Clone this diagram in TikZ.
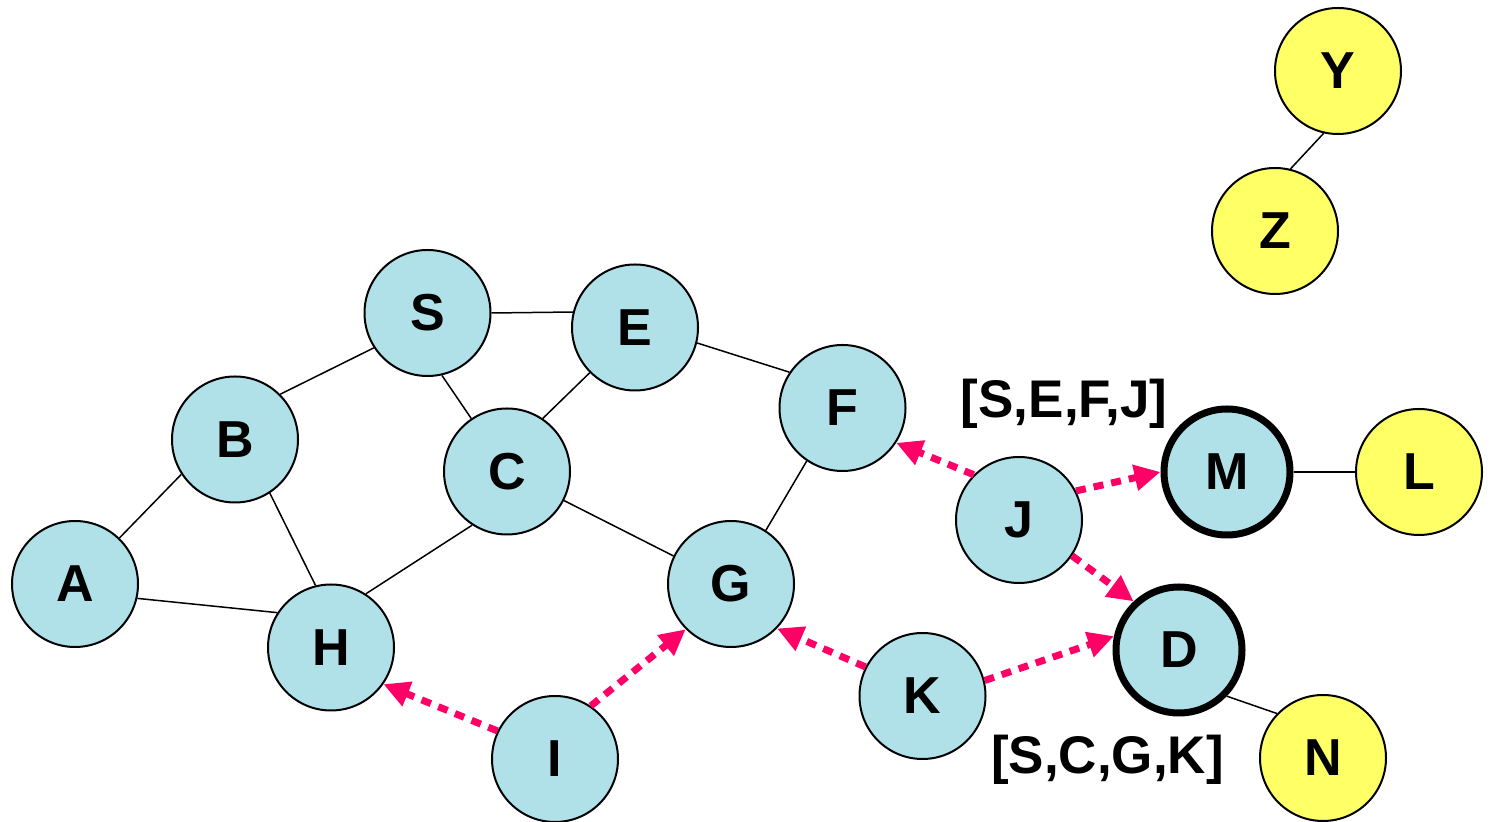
\documentclass[tikz,border=0pt]{standalone}
\usepackage{fontspec}
\setmainfont{Liberation Sans}
\usetikzlibrary{arrows.meta}
\definecolor{nodecyan}{RGB}{176,225,232}
\definecolor{nodeyellow}{RGB}{255,255,102}
\definecolor{arrowpink}{RGB}{255,0,102}
\begin{document}
\begin{tikzpicture}[x=0.5pt,y=-0.5pt,
  vert/.style={circle,draw=black,line width=1pt,fill=nodecyan,minimum size=63pt,inner sep=0pt,
    font=\fontsize{26}{26}\selectfont\bfseries},
  thickvert/.style={vert,line width=3.5pt},
  yvert/.style={vert,fill=nodeyellow},
  link/.style={line width=0.75pt,black},
  parr/.style={draw=arrowpink,line width=3.5pt,dash pattern=on 5pt off 4pt,
    -{Triangle[length=13pt,width=12.5pt]}},
  lab/.style={inner sep=0pt,font=\fontsize{26.5}{26.5}\selectfont\bfseries}]
\useasboundingbox (0,0) rectangle (1490,822);
% nodes
\node[vert] (S) at (427.5,313) {S};
\node[vert] (E) at (635,327.5) {E};
\node[vert] (B) at (235,439.5) {B};
\node[vert] (C) at (507,471.5) {C};
\node[vert] (F) at (842.5,408) {F};
\node[vert] (A) at (75,584) {A};
\node[vert] (H) at (331,647.5) {H};
\node[vert] (G) at (731,584) {G};
\node[vert] (I) at (555,759) {I};
\node[vert] (J) at (1019,520) {J};
\node[vert] (K) at (922.5,696) {K};
\node[thickvert] (M) at (1227,472) {M};
\node[thickvert] (D) at (1179,650) {D};
\node[yvert] (L) at (1419,472) {L};
\node[yvert] (N) at (1323,758) {N};
\node[yvert] (Y) at (1338,71) {Y};
\node[yvert] (Z) at (1275,231) {Z};
% labels
\node[lab,anchor=base] (lab1) at (1064,417.7) {[S,E,F,J]};
\node[lab,anchor=base] (lab2) at (1107.5,773.3) {[S,C,G,K]};
% plain links
\draw[link] (S.0) -- (E.166);
\draw[link] (S.213) -- (B.45);
\draw[link] (S.-77) -- (C.124);
\draw[link] (E.225) -- (C.56);
\draw[link] (E.-14) -- (F.146);
\draw[link] (C.-27) -- (G.154);
\draw[link] (C.237) -- (H.57);
\draw[link] (F.236) -- (G.57);
\draw[link] (B.213) -- (A.46);
\draw[link] (B.-57) -- (H.104);
\draw[link] (A.-13) -- (H.147);
\draw[link] (M.0) -- (L.180);
\draw[link] (D.-44) -- (N.136);
\draw[link] (Y.257) -- (Z.76);
% route request arrows
\draw[parr] (J.135) -- (F.-33);
\draw[parr] (J.27) -- (M.180);
\draw[parr] (J.-34) -- (D.133);
\draw[parr] (K.14) -- (D.168);
\draw[parr] (K.153) -- (G.-44);
\draw[parr] (I.56) -- (G.225);
\draw[parr] (I.154) -- (H.-35);
\end{tikzpicture}
\end{document}
